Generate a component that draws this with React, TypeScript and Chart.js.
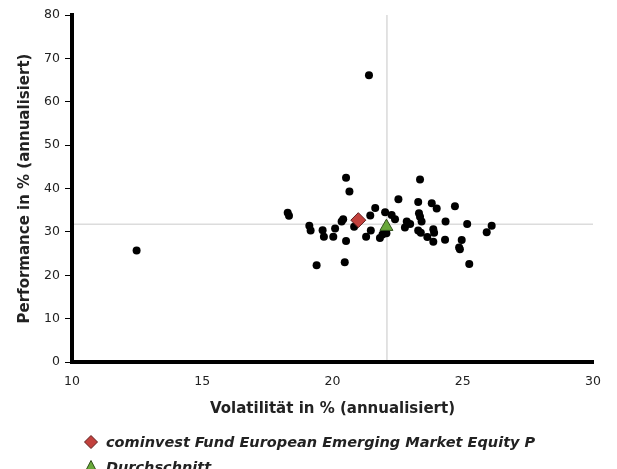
import React, { useEffect, useRef } from "react";
import { Chart, registerables } from "chart.js";

Chart.register(...registerables);

// Peer group funds: volatility (x, %) and performance (y, %)
const peerVolatility = [
  21.4, 12.48, 18.28, 18.33, 19.11, 19.16, 19.62, 19.67, 20.03, 20.1,
  20.35, 20.41, 20.52, 20.65, 20.52, 19.39, 20.47, 20.83, 21.29, 21.47,
  21.45, 21.64, 22.02, 22.27, 22.4, 21.82, 21.92, 22.07, 22.53, 23.36,
  23.29, 23.81, 24.0, 24.7, 23.32, 23.36, 22.85, 22.98, 22.78, 23.42,
  23.29, 23.39, 24.34, 25.17, 26.11, 25.92, 23.87, 23.9, 23.64, 23.87,
  24.32, 24.96, 24.86, 24.89, 25.25,
];
const peerPerformance = [
  66.1, 25.7, 34.4, 33.7, 31.4, 30.3, 30.4, 28.9, 28.9, 30.8,
  32.4, 32.9, 42.5, 39.3, 27.9, 22.3, 23.0, 31.2, 28.9, 30.3,
  33.8, 35.5, 34.5, 33.9, 32.9, 28.6, 29.4, 29.7, 37.5, 42.1,
  36.9, 36.6, 35.4, 35.9, 34.3, 33.5, 32.4, 31.8, 31.0, 32.4,
  30.3, 29.8, 32.4, 31.8, 31.4, 29.9, 30.6, 29.8, 28.8, 27.7,
  28.2, 28.1, 26.4, 26.0, 22.6,
];

const fundName = "cominvest Fund European Emerging Market Equity P";
const fundVolatility = [20.99];
const fundPerformance = [32.7];

const averageName = "Durchschnitt";
const averageVolatility = [22.07];
const averagePerformance = [31.2];

// crosshair reference lines
const crossX = 22.09;
const crossY = 31.75;

const xTitle = "Volatilität in % (annualisiert)";
const yTitle = "Performance in % (annualisiert)";
const xMin = 10, xMax = 30, xStep = 5;
const yMin = 0, yMax = 80, yStep = 10;

const toPoints = (xs: number[], ys: number[]) => xs.map((x, i) => ({ x, y: ys[i] }));

const FONT = "'DejaVu Sans', sans-serif";

const crosshairPlugin = {
  id: "crosshair",
  beforeDatasetsDraw(chart: any) {
    const { ctx, chartArea, scales } = chart;
    const px = scales.x.getPixelForValue(crossX);
    const py = scales.y.getPixelForValue(crossY);
    ctx.save();
    ctx.strokeStyle = "#dcdcdc";
    ctx.lineWidth = 1.6;
    ctx.beginPath();
    ctx.moveTo(px, chartArea.top);
    ctx.lineTo(px, chartArea.bottom - 2);
    ctx.moveTo(chartArea.left + 2, py);
    ctx.lineTo(chartArea.right, py);
    ctx.stroke();
    ctx.restore();
  },
};

export default function App() {
  const ref = useRef<HTMLCanvasElement | null>(null);

  useEffect(() => {
    if (!ref.current) return;
    const chart = new Chart(ref.current, {
      type: "scatter",
      data: {
        datasets: [
          {
            label: fundName,
            data: toPoints(fundVolatility, fundPerformance),
            pointStyle: "rectRot",
            pointRadius: 7.5,
            backgroundColor: "#c2413d",
            borderColor: "#5e1d1d",
            borderWidth: 1,
          },
          {
            label: averageName,
            data: toPoints(averageVolatility, averagePerformance),
            pointStyle: "triangle",
            pointRadius: 7.5,
            backgroundColor: "#69a83a",
            borderColor: "#2e4d18",
            borderWidth: 1,
          },
          {
            label: "Fonds",
            data: toPoints(peerVolatility, peerPerformance),
            pointStyle: "circle",
            pointRadius: 4,
            backgroundColor: "#000000",
            borderWidth: 0,
          },
        ],
      },
      options: {
        animation: false,
        responsive: false,
        devicePixelRatio: 1,
        layout: { padding: { left: 12, right: 24, top: 15, bottom: 47 } },
        plugins: {
          legend: { display: false },
          tooltip: { enabled: false },
        },
        scales: {
          x: {
            type: "linear",
            min: xMin,
            max: xMax,
            afterFit: (s: any) => { s.height = 60; },
            ticks: {
              stepSize: xStep,
              color: "#222",
              font: { family: FONT, size: 12.5 },
              padding: 12,
            },
            grid: { display: true, drawOnChartArea: false, drawTicks: false },
            border: { display: true, color: "#000", width: 4 },
            title: {
              display: true,
              text: xTitle,
              color: "#222",
              font: { family: FONT, size: 15, weight: "bold" },
              padding: { top: 4, bottom: 4 },
            },
          },
          y: {
            type: "linear",
            min: yMin,
            max: yMax,
            afterFit: (s: any) => { s.width = 60; },
            ticks: {
              stepSize: yStep,
              color: "#222",
              font: { family: FONT, size: 12.5 },
              padding: 5,
            },
            grid: { display: true, drawOnChartArea: false, drawTicks: true, tickLength: 7, color: "#000", lineWidth: 1 },
            border: { display: true, color: "#000", width: 4 },
            title: {
              display: true,
              text: yTitle,
              color: "#222",
              font: { family: FONT, size: 15, weight: "bold" },
              padding: { top: 4, bottom: 4 },
            },
          },
        },
      },
      plugins: [crosshairPlugin],
    });
    return () => chart.destroy();
  }, []);

  const legendText: React.CSSProperties = {
    position: "absolute",
    left: 106,
    fontFamily: FONT,
    fontSize: 14.5,
    fontWeight: "bold",
    fontStyle: "italic",
    color: "#222",
    lineHeight: "16px",
    whiteSpace: "nowrap",
  };

  return (
    <div style={{ position: "absolute", left: 0, top: 0, width: 617, height: 469, overflow: "hidden", background: "#fff" }}>
      <canvas ref={ref} width={617} height={469} style={{ position: "absolute", left: 0, top: 0 }} />
      <svg style={{ position: "absolute", left: 83, top: 434 }} width={16} height={16}>
        <polygon points="8,1.5 14.5,8 8,14.5 1.5,8" fill="#c2413d" stroke="#5e1d1d" strokeWidth={1} />
      </svg>
      <div style={{ ...legendText, top: 434 }}>{fundName}</div>
      <svg style={{ position: "absolute", left: 83, top: 459 }} width={16} height={16}>
        <polygon points="8,1.5 14.5,14 1.5,14" fill="#69a83a" stroke="#2e4d18" strokeWidth={1} />
      </svg>
      <div style={{ ...legendText, top: 459 }}>{averageName}</div>
    </div>
  );
}
